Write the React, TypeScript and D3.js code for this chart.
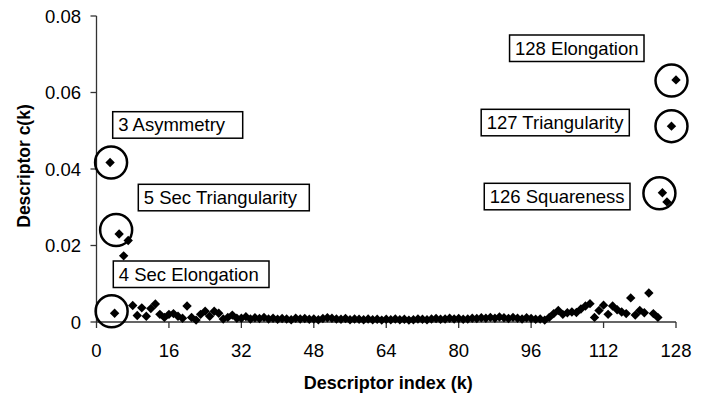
import React from "react";
import * as d3 from "d3";

// ---- data ----
const kIndex: number[] = [
  3, 4, 5, 6, 7, 8, 9, 10, 11, 12, 13, 14, 15, 16, 17, 18, 19, 20, 21, 22, 23, 24, 25, 26, 27, 28, 29, 30, 31,
  32, 33, 34, 35, 36, 37, 38, 39, 40, 41, 42, 43, 44, 45, 46, 47, 48, 49, 50, 51, 52, 53, 54, 55, 56, 57, 58,
  59, 60, 61, 62, 63, 64, 65, 66, 67, 68, 69, 70, 71, 72, 73, 74, 75, 76, 77, 78, 79, 80, 81, 82, 83, 84, 85,
  86, 87, 88, 89, 90, 91, 92, 93, 94, 95, 96, 97, 98, 99, 100, 101, 102, 103, 104, 105, 106, 107, 108, 109,
  110, 111, 112, 113, 114, 115, 116, 117, 118, 119, 120, 121, 122, 123, 124, 125, 126, 127, 128,
];
const cValues: number[] = [
  0.0417, 0.0023, 0.023, 0.0173, 0.0213, 0.0043, 0.0017, 0.0037, 0.0015, 0.0035, 0.0047, 0.002, 0.0012, 0.002,
  0.0022, 0.0015, 0.001, 0.0042, 0.0012, 0.0005, 0.002, 0.0028, 0.0015, 0.0028, 0.0023, 0.0008, 0.0012, 0.0018,
  0.001,
  0.001, 0.0014, 0.0008, 0.0011, 0.0009, 0.0012, 0.0008, 0.001, 0.0007, 0.0009, 0.0008, 0.0006, 0.001, 0.0008,
  0.0009, 0.0007, 0.0008, 0.0006, 0.0009, 0.0011, 0.001, 0.0008, 0.0007, 0.0009, 0.0006, 0.0008, 0.0007,
  0.0006, 0.0008, 0.0006, 0.0007, 0.0005, 0.0007, 0.0006, 0.0008, 0.0006, 0.0007, 0.0005, 0.0006, 0.0008,
  0.0007, 0.0006, 0.0008, 0.0009, 0.0007, 0.0008, 0.001, 0.0008, 0.0009, 0.0007, 0.0008, 0.001, 0.0009,
  0.0011, 0.001, 0.0012, 0.001, 0.0013, 0.0011, 0.0009, 0.0012, 0.001, 0.0008, 0.0011, 0.0009, 0.0007,
  0.0008, 0.0005, 0.0012, 0.0022, 0.003, 0.002, 0.0024, 0.0026, 0.0025, 0.0034, 0.0042, 0.0048, 0.0012, 0.003,
  0.0044, 0.002, 0.0042, 0.0032, 0.0026, 0.0022, 0.0063, 0.0018, 0.003, 0.0024, 0.0076, 0.0022, 0.0012,
  0.0338, 0.0314, 0.0512, 0.0633,
];
const xTicks: number[] = [0, 16, 32, 48, 64, 80, 96, 112, 128];
const yTicks: number[] = [0, 0.02, 0.04, 0.06, 0.08];
const annotationK: number[] = [3, 5, 4, 128, 127, 125];
const annotationText: string[] = [
  "3 Asymmetry",
  "5 Sec Triangularity",
  "4 Sec Elongation",
  "128 Elongation",
  "127 Triangularity",
  "126 Squareness",
];

// ---- layout (positions, not data) ----
const W = 705;
const H = 396;
const M = { left: 96.5, right: 676, top: 16, bottom: 322 };
// left boxes: fixed left edge and width; right boxes: right edge, width from text
const annLayout = [
  { x0: 112.7, x1: 0, y0: 111.7, w: 130, cdx: 1, cdy: 0 },
  { x0: 138.3, x1: 0, y0: 184.3, w: 171, cdx: -3, cdy: -4 },
  { x0: 113.3, x1: 0, y0: 261, w: 155.7, cdx: -3, cdy: -2 },
  { x0: 0, x1: 644, y0: 35, w: 0, cdx: -4.5, cdy: 0.7 },
  { x0: 0, x1: 629.3, y0: 109.3, w: 0, cdx: 0, cdy: 0 },
  { x0: 0, x1: 630, y0: 183.3, w: 0, cdx: -3, cdy: 0.6 },
];

const FONT = "'Liberation Sans', Arial, Helvetica, sans-serif";
const ANN_SIZE = 18.5;

function textWidth(s: string, size: number): number {
  try {
    const c = document.createElement("canvas").getContext("2d");
    if (!c) return s.length * size * 0.5;
    c.font = `${size}px 'Liberation Sans', Arial, sans-serif`;
    return c.measureText(s).width;
  } catch {
    return s.length * size * 0.5;
  }
}

export default function App() {
  const x = d3.scaleLinear().domain([0, 128]).range([M.left, M.right]);
  const y = d3.scaleLinear().domain([0, 0.08]).range([M.bottom, M.top]);
  const fmtY = (v: number) => (v === 0 ? "0" : d3.format(".2f")(v));
  const half = 4.7;
  const diamond = (cx: number, cy: number) =>
    `M${cx},${cy - half}L${cx + half},${cy}L${cx},${cy + half}L${cx - half},${cy}Z`;

  return (
    <svg width={W} height={H} style={{ display: "block", position: "absolute", left: 0, top: 0 }}>
      <rect width={W} height={H} fill="#fff" />
      {/* y axis */}
      <line x1={M.left} x2={M.left} y1={M.top} y2={M.bottom} stroke="#333" strokeWidth={1.3} />
      {yTicks.map((t) => (
        <g key={"y" + t}>
          <line x1={M.left - 6} x2={M.left} y1={y(t)} y2={y(t)} stroke="#333" strokeWidth={1.3} />
          <text x={81} y={y(t) + 6.5} textAnchor="end" fontFamily={FONT} fontSize={18.5} fill="#000">
            {fmtY(t)}
          </text>
        </g>
      ))}
      {/* x axis */}
      <line x1={M.left} x2={M.right} y1={M.bottom} y2={M.bottom} stroke="#333" strokeWidth={1.3} />
      {xTicks.map((t) => (
        <g key={"x" + t}>
          <line x1={x(t)} x2={x(t)} y1={M.bottom} y2={M.bottom + 6} stroke="#333" strokeWidth={1.3} />
          <text x={x(t)} y={357} textAnchor="middle" fontFamily={FONT} fontSize={18.5} fill="#000">
            {t}
          </text>
        </g>
      ))}
      <text x={(M.left + M.right) / 2 + 2} y={389} textAnchor="middle" fontFamily={FONT} fontSize={18} fontWeight="bold">
        Descriptor index (k)
      </text>
      <text
        transform={`translate(30,${(M.top + M.bottom) / 2 - 3}) rotate(-90)`}
        textAnchor="middle"
        fontFamily={FONT}
        fontSize={17.5}
        fontWeight="bold"
      >
        Descriptor c(k)
      </text>
      {/* points */}
      {kIndex.map((k, i) => (
        <path key={"p" + k} d={diamond(x(k), y(cValues[i]))} fill="#000" />
      ))}
      {/* annotations */}
      {annotationK.map((k, i) => {
        const idx = kIndex.indexOf(k);
        const L = annLayout[i];
        let bx = L.x0;
        let bw = L.w;
        if (L.x1) {
          bw = textWidth(annotationText[i], ANN_SIZE) + 11;
          bx = L.x1 - bw;
        }
        return (
          <g key={"a" + i}>
            <circle
              cx={x(k) + L.cdx}
              cy={y(cValues[idx]) + L.cdy}
              r={16}
              fill="none"
              stroke="#000"
              strokeWidth={2.5}
            />
            <rect x={bx} y={L.y0} width={bw} height={26.5} fill="#fff" stroke="#000" strokeWidth={1.5} />
            <text x={bx + 5.5} y={L.y0 + 19.5} fontFamily={FONT} fontSize={ANN_SIZE} fill="#000">
              {annotationText[i]}
            </text>
          </g>
        );
      })}
    </svg>
  );
}
